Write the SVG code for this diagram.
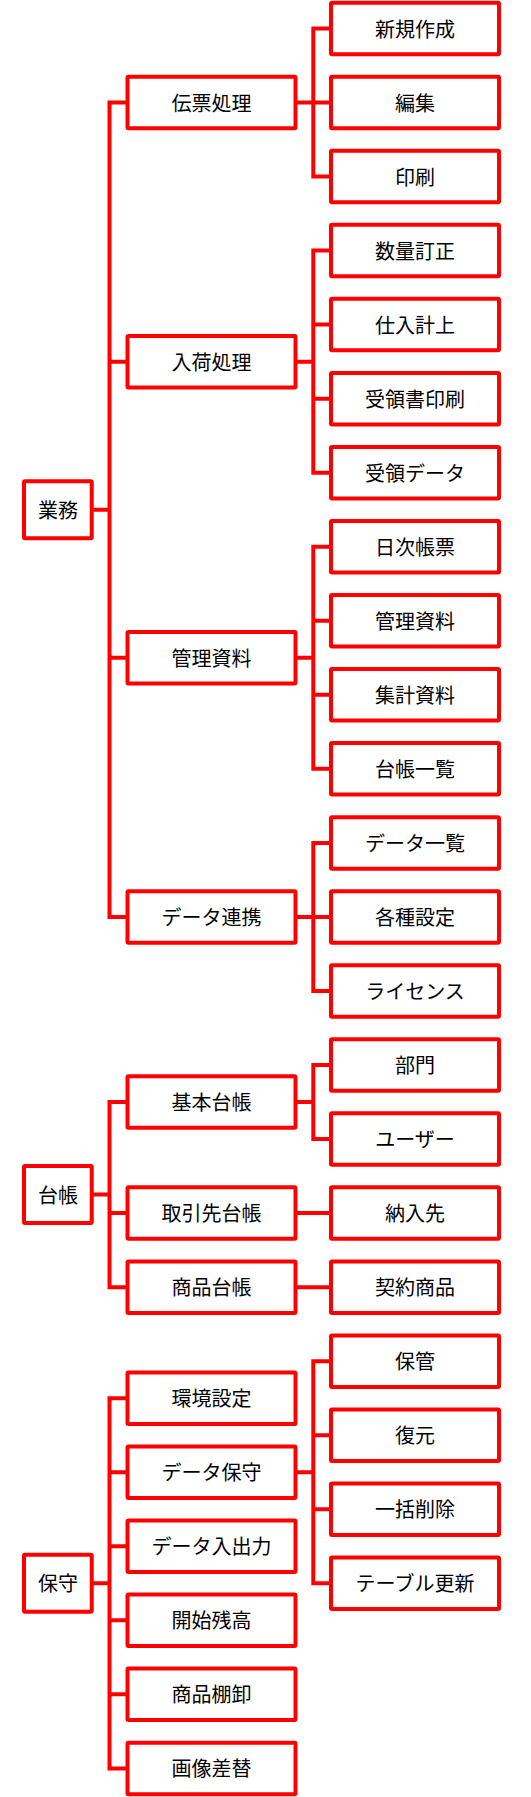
<svg xmlns="http://www.w3.org/2000/svg" width="531" height="1797" viewBox="0 0 531 1797">
<style>
.box{fill:#fff;stroke:#ff0000;stroke-width:4}
.ln{fill:none;stroke:#ff0000;stroke-width:4;stroke-linejoin:miter;stroke-linecap:butt}
.t{font-family:"Noto Sans CJK JP","Noto Sans CJK SC",sans-serif;font-size:20px;text-anchor:middle;dominant-baseline:central;fill:#000}
</style>
<rect width="531" height="1797" fill="#fff"/>
<g id="connectors">
<!-- 業務 -->
<path class="ln" d="M91.75,509.71 H109.5 M127.5,102.49 H109.5 V916.93 H127.5 M109.5,361.63 H127.5 M109.5,657.79 H127.5"/>
<!-- 伝票処理 -->
<path class="ln" d="M295.5,102.49 H331 M331,28.45 H313.3 V176.53 H331"/>
<!-- 入荷処理 -->
<path class="ln" d="M295.5,361.63 H313.3 M331,250.57 H313.3 V472.69 H331 M313.3,324.61 H331 M313.3,398.65 H331"/>
<!-- 管理資料 -->
<path class="ln" d="M295.5,657.79 H313.3 M331,546.73 H313.3 V768.85 H331 M313.3,620.77 H331 M313.3,694.81 H331"/>
<!-- データ連携 -->
<path class="ln" d="M295.5,916.93 H331 M331,842.89 H313.3 V990.97 H331"/>
<!-- 台帳 -->
<path class="ln" d="M91.75,1194.58 H109.5 M127.5,1102.03 H109.5 V1287.13 H127.5 M109.5,1213.09 H127.5"/>
<path class="ln" d="M295.5,1102.03 H313.3 M331,1065.01 H313.3 V1139.05 H331"/>
<path class="ln" d="M295.5,1213.09 H331 M295.5,1287.13 H331"/>
<!-- 保守 -->
<path class="ln" d="M91.75,1583.29 H109.5 M127.5,1398.19 H109.5 V1768.39 H127.5 M109.5,1472.23 H127.5 M109.5,1546.27 H127.5 M109.5,1620.31 H127.5 M109.5,1694.35 H127.5"/>
<path class="ln" d="M295.5,1472.23 H313.3 M331,1361.17 H313.3 V1583.29 H331 M313.3,1435.21 H331 M313.3,1509.25 H331"/>
</g>
<!-- root nodes -->
<g id="n-gyomu"><rect class="box" x="24" y="481.2" width="67.75" height="57" rx="1"/><text class="t" x="57.9" y="509.2">業務</text></g>
<g id="n-daicho"><rect class="box" x="24" y="1166.08" width="67.75" height="57" rx="1"/><text class="t" x="57.9" y="1194.1">台帳</text></g>
<g id="n-hoshu"><rect class="box" x="24" y="1554.79" width="67.75" height="57" rx="1"/><text class="t" x="57.9" y="1582.8">保守</text></g>
<!-- mid nodes -->
<g id="n-denpyo"><rect class="box" x="127.5" y="76.74" width="168" height="51.5" rx="1"/><text class="t" x="211.5" y="102">伝票処理</text></g>
<g id="n-nyuka"><rect class="box" x="127.5" y="335.88" width="168" height="51.5" rx="1"/><text class="t" x="211.5" y="361.1">入荷処理</text></g>
<g id="n-kanri"><rect class="box" x="127.5" y="632.04" width="168" height="51.5" rx="1"/><text class="t" x="211.5" y="657.3">管理資料</text></g>
<g id="n-renkei"><rect class="box" x="127.5" y="891.18" width="168" height="51.5" rx="1"/><text class="t" x="211.5" y="916.4">データ連携</text></g>
<g id="n-kihon"><rect class="box" x="127.5" y="1076.28" width="168" height="51.5" rx="1"/><text class="t" x="211.5" y="1101.5">基本台帳</text></g>
<g id="n-torihiki"><rect class="box" x="127.5" y="1187.34" width="168" height="51.5" rx="1"/><text class="t" x="211.5" y="1212.6">取引先台帳</text></g>
<g id="n-shohin"><rect class="box" x="127.5" y="1261.38" width="168" height="51.5" rx="1"/><text class="t" x="211.5" y="1286.6">商品台帳</text></g>
<g id="n-kankyo"><rect class="box" x="127.5" y="1372.44" width="168" height="51.5" rx="1"/><text class="t" x="211.5" y="1397.7">環境設定</text></g>
<g id="n-datahoshu"><rect class="box" x="127.5" y="1446.48" width="168" height="51.5" rx="1"/><text class="t" x="211.5" y="1471.7">データ保守</text></g>
<g id="n-nyushutsu"><rect class="box" x="127.5" y="1520.52" width="168" height="51.5" rx="1"/><text class="t" x="211.5" y="1545.8">データ入出力</text></g>
<g id="n-kaishi"><rect class="box" x="127.5" y="1594.56" width="168" height="51.5" rx="1"/><text class="t" x="211.5" y="1619.8">開始残高</text></g>
<g id="n-tanaoroshi"><rect class="box" x="127.5" y="1668.6" width="168" height="51.5" rx="1"/><text class="t" x="211.5" y="1693.8">商品棚卸</text></g>
<g id="n-gazo"><rect class="box" x="127.5" y="1742.64" width="168" height="51.5" rx="1"/><text class="t" x="211.5" y="1767.9">画像差替</text></g>
<!-- leaf nodes -->
<g id="l0"><rect class="box" x="331" y="2.7" width="168" height="51.5" rx="1"/><text class="t" x="415" y="28">新規作成</text></g>
<g id="l1"><rect class="box" x="331" y="76.74" width="168" height="51.5" rx="1"/><text class="t" x="415" y="102">編集</text></g>
<g id="l2"><rect class="box" x="331" y="150.78" width="168" height="51.5" rx="1"/><text class="t" x="415" y="176">印刷</text></g>
<g id="l3"><rect class="box" x="331" y="224.82" width="168" height="51.5" rx="1"/><text class="t" x="415" y="250.1">数量訂正</text></g>
<g id="l4"><rect class="box" x="331" y="298.86" width="168" height="51.5" rx="1"/><text class="t" x="415" y="324.1">仕入計上</text></g>
<g id="l5"><rect class="box" x="331" y="372.9" width="168" height="51.5" rx="1"/><text class="t" x="415" y="398.2">受領書印刷</text></g>
<g id="l6"><rect class="box" x="331" y="446.94" width="168" height="51.5" rx="1"/><text class="t" x="415" y="472.2">受領データ</text></g>
<g id="l7"><rect class="box" x="331" y="520.98" width="168" height="51.5" rx="1"/><text class="t" x="415" y="546.2">日次帳票</text></g>
<g id="l8"><rect class="box" x="331" y="595.02" width="168" height="51.5" rx="1"/><text class="t" x="415" y="620.3">管理資料</text></g>
<g id="l9"><rect class="box" x="331" y="669.06" width="168" height="51.5" rx="1"/><text class="t" x="415" y="694.3">集計資料</text></g>
<g id="l10"><rect class="box" x="331" y="743.1" width="168" height="51.5" rx="1"/><text class="t" x="415" y="768.4">台帳一覧</text></g>
<g id="l11"><rect class="box" x="331" y="817.14" width="168" height="51.5" rx="1"/><text class="t" x="415" y="842.4">データ一覧</text></g>
<g id="l12"><rect class="box" x="331" y="891.18" width="168" height="51.5" rx="1"/><text class="t" x="415" y="916.4">各種設定</text></g>
<g id="l13"><rect class="box" x="331" y="965.22" width="168" height="51.5" rx="1"/><text class="t" x="415" y="990.5">ライセンス</text></g>
<g id="l14"><rect class="box" x="331" y="1039.26" width="168" height="51.5" rx="1"/><text class="t" x="415" y="1064.5">部門</text></g>
<g id="l15"><rect class="box" x="331" y="1113.3" width="168" height="51.5" rx="1"/><text class="t" x="415" y="1138.6">ユーザー</text></g>
<g id="l16"><rect class="box" x="331" y="1187.34" width="168" height="51.5" rx="1"/><text class="t" x="415" y="1212.6">納入先</text></g>
<g id="l17"><rect class="box" x="331" y="1261.38" width="168" height="51.5" rx="1"/><text class="t" x="415" y="1286.6">契約商品</text></g>
<g id="l18"><rect class="box" x="331" y="1335.42" width="168" height="51.5" rx="1"/><text class="t" x="415" y="1360.7">保管</text></g>
<g id="l19"><rect class="box" x="331" y="1409.46" width="168" height="51.5" rx="1"/><text class="t" x="415" y="1434.7">復元</text></g>
<g id="l20"><rect class="box" x="331" y="1483.5" width="168" height="51.5" rx="1"/><text class="t" x="415" y="1508.8">一括削除</text></g>
<g id="l21"><rect class="box" x="331" y="1557.54" width="168" height="51.5" rx="1"/><text class="t" x="415" y="1582.8">テーブル更新</text></g>
</svg>
